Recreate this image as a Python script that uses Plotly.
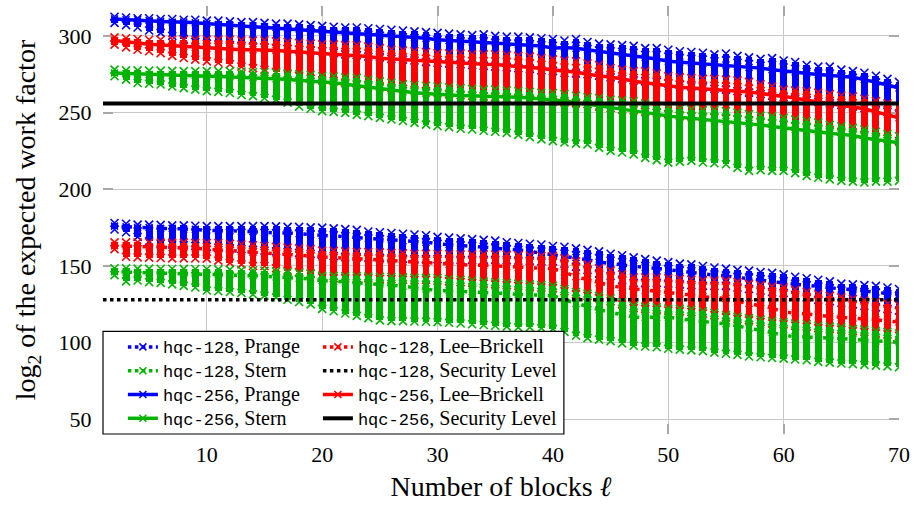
import plotly.graph_objects as go

# ---------------- data ----------------
x_blocks = list(range(2, 71))
x_limits = [1, 70]
security_128 = 128
security_256 = 256

# hqc-256, Prange
top_b256 = [312.5, 312, 311.5, 311.5, 311, 311, 310.5, 310.5, 310, 310,
            309.5, 309, 309, 308.5, 308, 308, 307.5, 307, 306.5, 306,
            305.5, 305.5, 305, 304.5, 304, 303.5, 303, 302.5, 302, 301.5,
            301, 300.5, 301, 300, 299.5, 299.5, 299, 298.5, 298, 297,
            298, 296, 295, 294.5, 294, 293.5, 292, 292, 291, 290,
            289.5, 289, 288, 288.5, 287, 286, 285, 285.5, 284, 283,
            281, 280, 280, 278, 277, 276, 274, 272, 270]
line_b256 = [311, 310.5, 310.5, 310, 309.5, 309, 309, 308.5, 308, 307.5,
             307, 306.5, 306.5, 306, 305.5, 305, 304.5, 304, 303.5, 303,
             302.5, 302, 301.5, 300.5, 300, 299.5, 299, 298.5, 297.5, 297,
             296.5, 296, 296, 295.5, 295, 294.5, 294, 293.5, 292, 292.5,
             292, 291, 290.5, 289.5, 288.5, 287, 286, 285, 283.5, 283,
             282.5, 282, 281.5, 281, 280, 279.5, 279, 278, 277.5, 276.5,
             275.5, 275, 274.5, 273.5, 273, 271.5, 270, 268, 266]
bot_b256 = [308.5, 307, 305.5, 303.5, 302, 300, 298, 296, 295, 294.5,
            294, 293.5, 293, 292.5, 292, 291.5, 291, 290.5, 290, 289,
            288, 287.5, 286.5, 286, 285, 284.5, 284, 283, 282.5, 282,
            281.5, 281, 280.5, 280, 279.5, 279, 278.5, 277.5, 277, 276,
            275.5, 275, 274, 273, 272, 271, 270.5, 270, 269, 268,
            267, 266.5, 265.5, 265, 264, 263, 262, 261, 260, 259,
            258, 257, 256, 255, 254, 253, 251.5, 250.5, 249]

# hqc-256, Lee-Brickell
top_r256 = [299, 298.5, 298, 297.5, 297.5, 297.5, 297.5, 297.5, 297.5, 297.5,
            297.5, 297, 297, 297, 296.5, 296, 295.5, 295, 294.5, 294.5,
            294, 294, 293, 292, 291, 290.5, 290, 289.5, 288.8, 288.5,
            288.5, 288, 288, 288, 287.5, 287, 286.5, 285.5, 284.7, 284,
            283.5, 282, 281, 279, 278, 277, 277, 275.5, 273.7, 273,
            272.5, 272, 272, 271.5, 271, 270, 268.5, 267, 265, 264.5,
            264, 263, 262, 261, 260.5, 259, 257.5, 256, 254]
line_r256 = [297, 296, 295.5, 294.5, 294, 293.5, 293, 292.5, 292, 291.5,
             291.5, 291, 291, 291, 290.5, 290, 289.5, 289, 288.8, 288,
             287.5, 287, 286.5, 285.5, 285, 284.5, 284, 283.5, 283.4, 283,
             282.5, 282, 281.5, 281.3, 280.5, 280, 279.5, 279, 278, 277,
             276.5, 275, 274, 273.5, 272, 270.5, 269.5, 268, 267, 266.5,
             266, 265.5, 265.5, 265, 264, 263.5, 262.5, 261.5, 260.7, 259.5,
             258, 257, 255.5, 254.5, 254, 252.5, 250.5, 248.5, 246.6]
bot_r256 = [294.3, 292.5, 291, 290, 288.8, 287, 285.6, 284.5, 283.4, 282.5,
            281.5, 280, 279, 278, 276.5, 275, 273.7, 272, 271, 270.5,
            269.5, 268.5, 268, 267, 266, 265.5, 264.5, 264, 263, 262,
            261.5, 261, 260.5, 260, 259.5, 259, 258.5, 258, 257, 256.5,
            256, 255.5, 254, 253, 252, 251.5, 250.5, 250, 249, 248,
            247.5, 247, 246.5, 246, 245.5, 245, 244, 243, 242, 241,
            240.5, 239.5, 238.5, 237.5, 237, 235.5, 234, 233, 231.5]

# hqc-256, Stern
top_g256 = [278, 277.5, 277.5, 277.4, 277.4, 277.2, 277, 277, 277, 277,
            277, 276.8, 276.5, 276.5, 276, 275.5, 275, 274.5, 273.7, 273.5,
            273, 272.6, 271.5, 270.4, 269.5, 268.5, 268, 267.5, 267, 266.5,
            266, 265.5, 265, 265, 264.5, 264, 263.5, 263, 262.8, 262,
            261, 260, 259.5, 258.5, 258, 257.4, 256, 254.5, 253, 252.5,
            252, 251.5, 251.5, 251, 250, 249, 248, 247.5, 246.6, 245.5,
            244.5, 243.5, 242, 241, 240, 239, 237.5, 236, 234.7]
line_g256 = [275.8, 275.5, 275, 274.8, 274.5, 274.3, 274, 274, 273.7, 273.5,
             273.3, 273, 272.8, 272.6, 272, 271.5, 271, 270.8, 270.4, 269.5,
             268.5, 267.5, 266.5, 265.5, 264.5, 263.5, 263, 262.5, 261.8, 261.5,
             261.2, 261, 260.8, 260.7, 260.3, 260, 259.5, 259, 258.5, 257.5,
             256.5, 255.5, 254.5, 253, 252, 251, 250, 249, 247.7, 247,
             246.5, 246, 245, 244.4, 243.5, 243, 242, 241, 240, 239,
             238, 237.5, 236.5, 235.8, 235, 233.5, 232.5, 231.5, 230.3]
bot_g256 = [273.7, 271.5, 269.3, 268.8, 268.3, 267, 266, 265, 264, 263.5,
            262.8, 261.5, 260.7, 259.5, 258.5, 256.5, 254, 252.5, 251, 250.5,
            249.8, 248.5, 247.7, 246.6, 245.5, 244.5, 243.3, 242.2, 241.2, 240.5,
            239.5, 239, 238.2, 237.5, 236.8, 235.5, 234, 232.5, 231.4, 230.5,
            229.8, 229.3, 227, 225, 224, 222.8, 220.5, 219, 217.4, 218,
            218.5, 217.5, 217, 216.3, 214, 212, 212.5, 212, 212, 210.5,
            208.7, 207.5, 206.5, 205.5, 205, 204.4, 205, 205, 205.5]

# hqc-128, Prange
top_b128 = [178, 177.5, 177, 177, 176.8, 176.5, 176.5, 176.2, 176, 176,
            176, 176, 176, 176, 175.8, 175.5, 175.5, 175.2, 175, 174.5,
            174, 173.5, 172.5, 172, 171.5, 171, 170.5, 170, 169, 168.5,
            168, 167.5, 167, 166.5, 165.5, 165, 164.5, 164, 163, 162.5,
            161.5, 160.5, 159.5, 158, 157, 155.6, 154.5, 153.5, 152.5, 151.5,
            151, 150, 149, 148.3, 147.5, 147, 146, 145.5, 144.5, 143,
            142, 141, 140, 138.5, 138, 137.5, 137, 136, 135]
line_b128 = [176, 175.5, 175, 175, 174.5, 174.5, 174, 174, 173.5, 173,
             173, 172.5, 172.5, 172, 171.5, 171.5, 171, 170.5, 170, 169.5,
             169, 168.5, 168, 167.6, 167, 166.5, 166, 165.5, 164.5, 164,
             163.5, 163, 162, 161.5, 161, 160.5, 159.5, 158.5, 157, 156.5,
             155.5, 154, 152.5, 151.5, 150.5, 149.5, 149, 148.5, 147.5, 147,
             146, 145, 144, 143.5, 142.5, 142, 141, 140, 139, 138,
             137.5, 136.5, 135.5, 135, 134.5, 133.5, 133, 132, 131.5]
bot_b128 = [173.8, 172, 169, 166, 164.5, 164, 163.5, 163, 162.5, 162,
            161.5, 161, 160.5, 160, 159.5, 159, 158.5, 158, 157, 156.5,
            156, 155.7, 155.5, 155.3, 155, 154.7, 154.5, 154.5, 154.5, 154.3,
            154, 154, 154, 154, 153.8, 153.5, 153.3, 153, 153, 151.5,
            149.5, 147.5, 145, 143.5, 141, 139, 139, 139, 138.5, 138,
            137.5, 137, 137, 137, 136, 135, 134, 133, 132.5, 131,
            129.5, 128, 127, 126, 125, 124, 123, 122, 121]

# hqc-128, Lee-Brickell
top_r128 = [165.4, 165.4, 165.4, 165.3, 165.3, 165.2, 165.2, 165.1, 165, 165,
            164.5, 164, 163.5, 163, 162.5, 162, 161.5, 161, 160, 159.8,
            159.5, 159.2, 159, 158.9, 158.5, 158.3, 158, 158, 158, 157.8,
            157.6, 157.5, 157.5, 157.5, 157.3, 157, 156.8, 156.5, 156.5, 155,
            153, 151, 148.5, 147, 144.5, 142.5, 142.5, 142.5, 142, 141.5,
            141, 140.5, 140.5, 140.5, 139.5, 138.5, 137.5, 136.5, 136, 134.5,
            133, 131.5, 130.5, 129.5, 128.5, 127.5, 126.5, 125.5, 124.5]
line_r128 = [163.2, 163, 162.8, 162.5, 162.3, 162, 161.8, 161.5, 161, 160.5,
             160, 159.5, 159, 158.5, 158, 157.5, 157, 156.5, 155.6, 155.2,
             155, 154.8, 154.5, 154, 153.5, 153, 152.5, 152, 151.5, 151,
             150.8, 150.5, 150.5, 150, 149.5, 149, 148.8, 148.5, 148.3, 146,
             143, 141, 139, 137.2, 136, 135, 134, 133.5, 132.7, 132,
             131, 130, 129.5, 128.8, 127, 125.5, 124, 122.5, 120, 119.5,
             118.5, 118, 117, 116.6, 116, 115.5, 115, 114, 113.4]
bot_r128 = [161, 156, 155.6, 155.4, 155.2, 155, 155, 154.9, 154.8, 153.5,
            152, 151, 150, 150, 148.5, 147, 146, 145, 142.5, 142,
            142, 142, 142, 141.5, 141.5, 141, 141, 141, 140.5, 140,
            139.5, 139, 138.5, 138, 137.5, 137, 136.5, 136, 135.5, 133.5,
            131.5, 130.5, 129, 127, 125, 122.5, 122, 121.5, 121, 120.5,
            120, 119, 118, 116.5, 115.5, 114.5, 113.5, 112.5, 112, 111,
            110.5, 109.5, 109, 108.5, 107.5, 107, 106, 105.5, 104.5]

# hqc-128, Stern
top_g128 = [148.5, 148.5, 148.3, 148.3, 148.2, 148.2, 148.1, 148, 148, 147.8,
            147.6, 147.4, 147.2, 147, 146.5, 146, 145.5, 145, 143.7, 143.5,
            143.4, 143.3, 143.2, 143, 142.8, 142.6, 142.4, 142.2, 142, 141.5,
            141, 140.5, 140, 139.5, 139, 138.5, 138, 137.5, 137, 135,
            133, 132, 130.5, 128.8, 126.5, 124, 123.5, 123, 122.3, 122,
            121.5, 120.5, 119.5, 118, 117, 116, 115, 114, 113.4, 112.5,
            112, 111, 110.5, 110, 109, 108.5, 107.5, 107, 106]
line_g128 = [146.2, 146, 145.8, 145.6, 145.5, 145.3, 145.2, 145, 144.8, 144.5,
             144.2, 144, 143.6, 143.2, 142.8, 142.4, 142, 141.5, 140.5, 140,
             139.6, 139.4, 139, 138.3, 137.5, 136.8, 136, 135, 134, 133.8,
             133.5, 133.2, 133, 132.5, 132, 131.5, 131.2, 131, 130.7, 128,
             125.5, 123.5, 121.5, 120, 118, 116.6, 116.5, 116.5, 116.6, 115.5,
             114.5, 113.5, 113, 112.3, 111, 109.5, 108, 106.5, 104.7, 104,
             103.8, 103.5, 103, 102.6, 102, 101.5, 101, 100.7, 100.4]
bot_g128 = [144, 140, 140.5, 139.5, 139, 138, 137, 136, 134, 133.5,
            133, 132.5, 131.5, 130.7, 129.5, 128, 126.5, 125, 122, 120.5,
            119, 117.5, 116, 114.5, 114, 114, 113.8, 113.6, 113.4, 113,
            112.5, 112, 111.5, 111, 110.5, 110, 110, 109.5, 109, 107,
            104.5, 103, 102, 101, 99.5, 98, 97.5, 97, 96, 95.5,
            95, 94.5, 93.5, 92.8, 92, 91, 90.5, 90, 89.6, 89,
            88.5, 87.5, 87, 86.4, 86, 85.5, 85, 84.5, 84]

# ---------------- styling ----------------
BLUE, RED, GREEN, BLACK = "#0000ff", "#ff0000", "#00b300", "#000000"
SERIF = "Liberation Serif"
MONO = "Liberation Mono"


def label(tag, name):
    return (f'<span style="font-family:{MONO};font-size:17px">{tag}</span>'
            f'<span style="font-family:{SERIF};font-size:20px">, {name}</span>')


series = [
    ("hqc-128", "Prange", BLUE, top_b128, line_b128, bot_b128, "dot", "legend"),
    ("hqc-128", "Lee–Brickell", RED, top_r128, line_r128, bot_r128, "dot", "legend2"),
    ("hqc-128", "Stern", GREEN, top_g128, line_g128, bot_g128, "dot", "legend"),
    ("hqc-128", "SEC", BLACK, None, None, None, "dot", "legend2"),
    ("hqc-256", "Prange", BLUE, top_b256, line_b256, bot_b256, "solid", "legend"),
    ("hqc-256", "Lee–Brickell", RED, top_r256, line_r256, bot_r256, "solid", "legend2"),
    ("hqc-256", "Stern", GREEN, top_g256, line_g256, bot_g256, "solid", "legend"),
    ("hqc-256", "SEC", BLACK, None, None, None, "solid", "legend2"),
]

fig = go.Figure()
for z, (tag, name, col, top, mid, bot, dash, leg) in enumerate(series, start=1):
    if name == "SEC":
        lvl = security_128 if tag == "hqc-128" else security_256
        fig.add_trace(go.Scatter(
            x=x_limits, y=[lvl, lvl], mode="lines",
            line=dict(color=col, width=4 if dash == "solid" else 3.5, dash=dash),
            name=label(tag, "Security Level"), legend=leg, zorder=z))
        continue
    # dense cloud of points at each block count
    fig.add_trace(go.Bar(
        x=x_blocks, y=[t - b for t, b in zip(top, bot)], base=bot,
        width=0.6, marker=dict(color=col, line=dict(width=0)),
        showlegend=False, hoverinfo="skip", zorder=z))
    fig.add_trace(go.Scatter(
        x=x_blocks + x_blocks, y=top + bot, mode="markers",
        marker=dict(symbol="x-thin", size=8, line=dict(width=1.6, color=col)),
        showlegend=False, hoverinfo="skip", zorder=z))
    fig.add_trace(go.Scatter(
        x=x_blocks, y=mid, mode="lines+markers",
        line=dict(color=col, width=3.5, dash=dash),
        marker=dict(symbol="x-thin", size=7, line=dict(width=1.5, color=col)),
        name=label(tag, name), legend=leg, zorder=z))

axis_common = dict(
    showline=True, linecolor="black", linewidth=1.2, mirror="ticks",
    ticks="inside", ticklen=10, tickwidth=1.5, tickcolor="#a8a8a8",
    showgrid=True, gridcolor="#c8c8c8", gridwidth=1, zeroline=False,
    tickfont=dict(family=SERIF, size=22, color="black"),
)

fig.update_layout(
    width=915, height=506,
    margin=dict(l=103, r=14, t=5, b=72),
    paper_bgcolor="white", plot_bgcolor="white",
    barmode="overlay", bargap=0,
    font=dict(family=SERIF, color="black"),
    xaxis=dict(range=x_limits, tickvals=[10, 20, 30, 40, 50, 60, 70],
               ticklabelstandoff=0,
               title=dict(text="Number of blocks <i>ℓ</i>", font=dict(size=28), standoff=10),
               **axis_common),
    yaxis=dict(range=[40.45, 319.5], tickvals=[50, 100, 150, 200, 250, 300],
               ticklabelstandoff=6,
               title=dict(text="log<sub>2</sub> of the expected work factor",
                          font=dict(size=28), standoff=14),
               **axis_common),
    legend=dict(x=0.025, y=0.243, xanchor="left", yanchor="top",
                bgcolor="rgba(0,0,0,0)", borderwidth=0,
                font=dict(family=MONO, size=16, color="black"),
                tracegroupgap=0, traceorder="normal"),
    legend2=dict(x=0.27, y=0.243, xanchor="left", yanchor="top",
                 bgcolor="rgba(0,0,0,0)", borderwidth=0,
                 font=dict(family=MONO, size=16, color="black"),
                 tracegroupgap=0, traceorder="normal"),
    shapes=[dict(type="rect", xref="paper", yref="paper",
                 x0=0, x1=0.579, y0=0, y1=0.24,
                 fillcolor="white", line=dict(color="black", width=1.2),
                 layer="above")],
)

fig.write_html("out.html")
